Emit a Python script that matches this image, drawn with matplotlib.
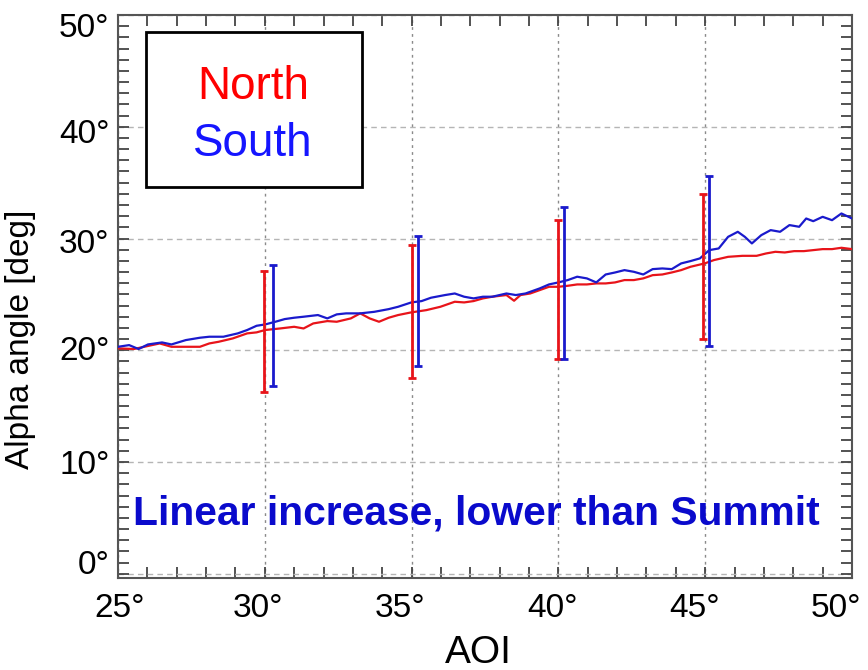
import matplotlib
matplotlib.use("Agg")
import matplotlib.pyplot as plt
from matplotlib.patches import Rectangle
from matplotlib.ticker import MultipleLocator, FuncFormatter
from matplotlib.transforms import ScaledTranslation

plt.rcParams['font.family'] = ['Liberation Sans', 'DejaVu Sans']

# North: AOI (deg) and alpha angle (deg)
aoi_north = [25.0, 25.54, 26.42, 26.82, 27.31, 27.79, 28.11, 28.43, 28.91, 29.40,
             29.72, 30.01, 30.52, 31.00, 31.32, 31.65, 32.13, 32.45, 32.93, 33.25,
             33.57, 33.89, 34.22, 34.54, 34.99, 35.50, 35.98, 36.47, 36.79, 37.11,
             37.43, 37.75, 38.23, 38.49, 38.71, 39.04, 39.36, 39.68, 40.00, 40.32,
             40.64, 40.97, 41.29, 41.61, 41.93, 42.25, 42.57, 42.89, 43.21, 43.54,
             43.86, 44.18, 44.50, 44.98, 45.30, 45.78, 46.27, 46.75, 47.07, 47.39,
             47.71, 48.03, 48.36, 48.68, 49.00, 49.32, 49.64, 50.0]
alpha_north = [20.17, 20.11, 20.61, 20.31, 20.31, 20.31, 20.61, 20.76, 21.06, 21.51,
               21.60, 21.81, 21.95, 22.10, 21.95, 22.40, 22.61, 22.55, 22.85, 23.30,
               22.85, 22.55, 22.91, 23.15, 23.39, 23.59, 23.89, 24.34, 24.28, 24.40,
               24.64, 24.79, 24.94, 24.43, 24.94, 25.08, 25.38, 25.68, 25.68, 25.77,
               25.89, 25.89, 25.98, 25.98, 26.07, 26.28, 26.28, 26.43, 26.72, 26.78,
               26.96, 27.17, 27.47, 27.77, 28.07, 28.36, 28.45, 28.45, 28.66, 28.81,
               28.75, 28.87, 28.87, 28.96, 29.05, 29.05, 29.17, 29.05]

# South: AOI (deg) and alpha angle (deg)
aoi_south = [25.0, 25.38, 25.70, 26.02, 26.50, 26.82, 27.31, 27.79, 28.11, 28.59,
             29.08, 29.40, 29.72, 30.01, 30.36, 30.68, 31.00, 31.32, 31.81, 32.13,
             32.45, 32.77, 33.25, 33.73, 34.22, 34.54, 34.99, 35.34, 35.66, 36.14,
             36.47, 36.79, 37.11, 37.43, 37.75, 38.23, 38.55, 38.88, 39.36, 39.68,
             40.00, 40.32, 40.64, 40.97, 41.29, 41.61, 41.93, 42.25, 42.57, 42.89,
             43.21, 43.54, 43.86, 44.18, 44.50, 44.82, 45.14, 45.46, 45.78, 46.11,
             46.35, 46.59, 46.91, 47.23, 47.55, 47.87, 48.20, 48.44, 48.68, 49.00,
             49.32, 49.64, 50.0]
alpha_south = [20.31, 20.46, 20.11, 20.52, 20.70, 20.52, 20.91, 21.12, 21.21, 21.21,
               21.51, 21.81, 22.19, 22.31, 22.55, 22.79, 22.91, 23.00, 23.15, 22.85,
               23.21, 23.30, 23.30, 23.44, 23.68, 23.89, 24.28, 24.40, 24.70, 24.94,
               25.08, 24.79, 24.64, 24.79, 24.79, 25.08, 24.94, 25.08, 25.53, 25.89,
               26.07, 26.28, 26.58, 26.43, 26.07, 26.78, 26.96, 27.17, 27.02, 26.78,
               27.26, 27.32, 27.26, 27.77, 27.98, 28.22, 28.96, 29.11, 30.15, 30.60,
               30.15, 29.56, 30.30, 30.75, 30.60, 31.20, 31.05, 31.79, 31.55, 31.94,
               31.64, 32.24, 31.79]

# Error bar ranges (low, high) at selected AOI values
err_x_north = [29.98, 35.02, 39.97, 44.94]
err_lo_north = [16.3, 17.5, 19.25, 21.0]
err_hi_north = [27.1, 29.4, 31.7, 34.0]

err_x_south = [30.29, 35.23, 40.2, 45.13]
err_lo_south = [16.8, 18.6, 19.25, 20.4]
err_hi_south = [27.65, 30.2, 32.8, 35.6]

RED = '#e8141a'
BLUE = '#1a1acc'

fig = plt.figure(figsize=(8.68, 6.70), dpi=100)
ax = fig.add_axes([118 / 868, 1 - 578 / 670, (852 - 118) / 868, (578 - 15) / 670])

ax.set_xlim(25, 50)
ax.set_ylim(-0.38, 50)

ax.plot(aoi_north, alpha_north, color=RED, lw=1.6, zorder=3)
ax.plot(aoi_south, alpha_south, color=BLUE, lw=1.6, zorder=3)


def draw_err(xs, lo, hi, color):
    mid = [(a + b) / 2 for a, b in zip(lo, hi)]
    half = [(b - a) / 2 for a, b in zip(lo, hi)]
    ax.errorbar(xs, mid, yerr=half, fmt='none', ecolor=color,
                elinewidth=2.0, capsize=3, capthick=2.0, zorder=4)


draw_err(err_x_north, err_lo_north, err_hi_north, RED)
draw_err(err_x_south, err_lo_south, err_hi_south, BLUE)

# axes styling
ax.xaxis.set_major_locator(MultipleLocator(5))
ax.xaxis.set_minor_locator(MultipleLocator(1))
ax.yaxis.set_major_locator(MultipleLocator(10))
ax.yaxis.set_minor_locator(MultipleLocator(1))
deg = FuncFormatter(lambda v, p: f"{v:.0f}\u00b0")
ax.xaxis.set_major_formatter(deg)
ax.yaxis.set_major_formatter(deg)
ax.tick_params(which='both', direction='in', top=True, right=True,
               length=8, width=1.3, color='#444444')
ax.tick_params(axis='x', labelsize=24, pad=11)
ax.tick_params(axis='y', labelsize=24, pad=6)
for s in ax.spines.values():
    s.set_color('#555555')
    s.set_linewidth(1.5)

ax.grid(True, which='major', axis='x', color='#8a8a8a', lw=1.0,
        linestyle=(0, (2, 3)), zorder=0)
ax.grid(True, which='major', axis='y', color='#b5b5b5', lw=1.0,
        linestyle=(0, (4, 3)), zorder=0)

# small per-label nudges of the tick labels (pixels; +x right, +y down)
fig.canvas.draw()
x_nudge = {25: 2, 30: -7, 35: -12, 40: -6, 45: -11, 50: -16}
y_nudge = {0: -12, 10: 0, 20: -2, 30: 2, 40: 4, 50: 10}
for lab, v in zip(ax.get_xticklabels(), ax.get_xticks()):
    dx = x_nudge.get(int(round(v)), 0)
    lab.set_transform(lab.get_transform() + ScaledTranslation(dx / 100, 0, fig.dpi_scale_trans))
for lab, v in zip(ax.get_yticklabels(), ax.get_yticks()):
    dy = y_nudge.get(int(round(v)), 0)
    lab.set_transform(lab.get_transform() + ScaledTranslation(0, -dy / 100, fig.dpi_scale_trans))

# light panel behind the caption
ax.add_patch(Rectangle((25.1, -0.3), 24.2, 10.2, facecolor='white',
                       edgecolor='none', alpha=0.65, zorder=1))

# key box
ax.add_patch(Rectangle((25.95, 34.6), 7.36, 13.86, facecolor='white',
                       edgecolor='black', lw=2.0, zorder=5))
ax.text(29.6, 42.44, 'North', color='#ff0000', fontsize=33,
        ha='center', va='baseline', zorder=6)
ax.text(29.6, 37.42, 'South', color='#1515ff', fontsize=33,
        ha='center', va='baseline', zorder=6)

ax.text(37.19, 4.45, 'Linear increase, lower than Summit', color='#0a0acc',
        fontsize=29.3, fontweight='bold', ha='center', va='baseline', zorder=6)

fig.text(478 / 868, 1 - 663 / 670, 'AOI', fontsize=28, ha='center',
         va='baseline')
fig.text(21 / 868, 1 - 339 / 670, 'Alpha angle [deg]', fontsize=24,
         rotation=90, ha='center', va='center')

fig.savefig('out.png', dpi=100)
